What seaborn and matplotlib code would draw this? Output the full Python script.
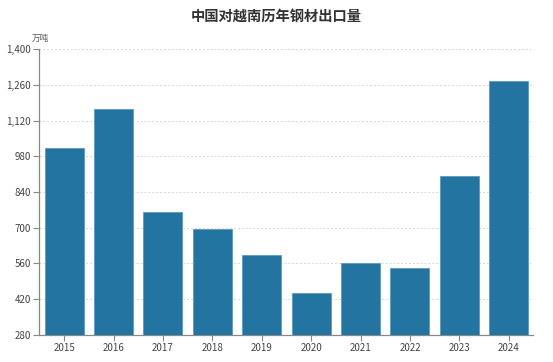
import matplotlib
matplotlib.use("Agg")
import matplotlib.pyplot as plt
import seaborn as sns
import pandas as pd
from matplotlib.ticker import FuncFormatter

years = ["2015", "2016", "2017", "2018", "2019", "2020", "2021", "2022", "2023", "2024"]
exports = [1012, 1165, 762, 695, 593, 446, 563, 544, 903, 1275]
y_ticks = [280, 420, 560, 700, 840, 980, 1120, 1260, 1400]
title = "中国对越南历年钢材出口量"
unit = "万吨"

sns.set_theme(style="white")
plt.rcParams['font.family'] = ['Noto Sans CJK SC', 'DejaVu Sans']

df = pd.DataFrame({"year": years, "value": exports})

fig = plt.figure(figsize=(5.53, 3.62), dpi=100)
ax = fig.add_axes([0.0714, 0.0746, 0.8933, 0.79])

sns.barplot(data=df, x="year", y="value", color="#2374a0", saturation=1,
            width=0.79, edgecolor="#5a9bc0", linewidth=0.6, ax=ax, zorder=3)

ax.set_ylim(280, 1400)
ax.set_yticks(y_ticks)
ax.yaxis.set_major_formatter(FuncFormatter(lambda v, p: f"{int(v):,}"))
ax.set_xlim(-0.5, len(years) - 0.5)
ax.set_xlabel("")
ax.set_ylabel("")

ax.grid(axis="y", color="#d8d8d8", linestyle=(0, (2, 2)), linewidth=0.7, zorder=0)
ax.grid(axis="x", visible=False)

for s in ["top", "right"]:
    ax.spines[s].set_visible(False)
for s in ["left", "bottom"]:
    ax.spines[s].set_color("#888888")
    ax.spines[s].set_linewidth(0.9)

ax.tick_params(axis="both", which="both", direction="out", length=4, width=0.8,
               color="#888888", labelsize=7, labelcolor="#444444", pad=2)
ax.tick_params(axis="y", left=True)
ax.tick_params(axis="x", bottom=True)

fig.text(0.5, 0.953, title, ha="center", va="center", fontsize=10.3,
         fontweight="bold", color="#333333")
fig.text(0.073, 0.895, unit, ha="center", va="center", fontsize=6.2, color="#555555")

fig.savefig("out.png", dpi=100)
